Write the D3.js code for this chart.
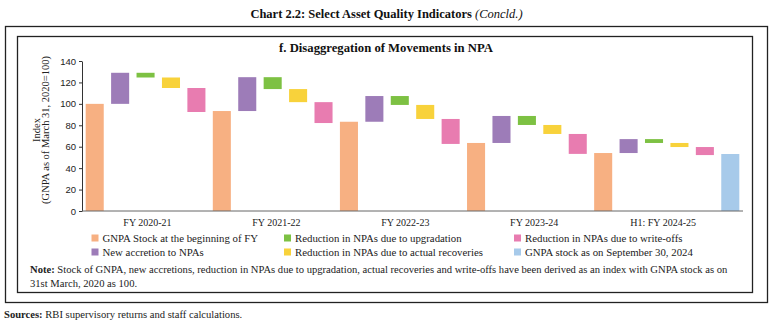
<!DOCTYPE html>
<html>
<head>
<meta charset="utf-8">
<script src="https://cdn.jsdelivr.net/npm/d3@7"></script>
<style>
    body { margin: 0; background: #fff; }
    svg { display: block; }
</style>
</head>
<body>
<div id="chart"></div>
<script>
// values (index, GNPA as of March 31, 2020 = 100)
var fiscalYears = ["FY 2020-21", "FY 2021-22", "FY 2022-23", "FY 2023-24", "H1: FY 2024-25"];
var openingStock = [100, 93.3, 83.3, 63.5, 54.1];
var newAccretion = [29, 31.6, 24, 25.2, 13];
var upgradation = [4.4, 11.1, 8.3, 8.4, 3.6];
var recoveries = [9.8, 12.2, 13.1, 8.4, 3.8];
var writeOffs = [22.4, 19.5, 23.3, 18.6, 7.5];
var closingStock = 53.2;
var yTicks = [0, 20, 40, 60, 80, 100, 120, 140];

var seriesNames = {
    open: "GNPA Stock at the beginning of FY",
    accretion: "New accretion to NPAs",
    upgrade: "Reduction in NPAs due to upgradation",
    recovery: "Reduction in NPAs due to actual recoveries",
    writeoff: "Reduction in NPAs due to write-offs",
    close: "GNPA stock as on September 30, 2024"
};
var seriesColors = {
    open: "#F7B082",
    accretion: "#9D7CB8",
    upgrade: "#7DC143",
    recovery: "#F8D23B",
    writeoff: "#E87CB0",
    close: "#A7CAEA"
};
// legend is laid out column by column, two rows
var legendOrder = ["open", "accretion", "upgrade", "recovery", "writeoff", "close"];

var width = 773, height = 325;
var serif = "'Liberation Serif', 'Times New Roman', serif";
var sans = "'Liberation Sans', Arial, sans-serif";

// build the floating bars of the waterfall
var bars = [];
fiscalYears.forEach(function (fy, i) {
    var level = openingStock[i];
    bars.push({key: "open", y0: 0, y1: level});
    bars.push({key: "accretion", y0: level, y1: level + newAccretion[i]});
    level += newAccretion[i];
    bars.push({key: "upgrade", y0: level - upgradation[i], y1: level});
    level -= upgradation[i];
    bars.push({key: "recovery", y0: level - recoveries[i], y1: level});
    level -= recoveries[i];
    bars.push({key: "writeoff", y0: level - writeOffs[i], y1: level});
});
bars.push({key: "close", y0: 0, y1: closingStock});

var svg = d3.select("#chart").append("svg")
    .attr("xmlns", "http://www.w3.org/2000/svg")
    .attr("width", width)
    .attr("height", height);

svg.append("text")
    .attr("x", 386.5)
    .attr("y", 18)
    .attr("text-anchor", "middle")
    .attr("font-family", serif)
    .attr("font-size", "12.5px")
    .attr("font-weight", "bold")
    .attr("fill", "#111")
    .text("Chart 2.2: Select Asset Quality Indicators ")
    .append("tspan")
    .attr("font-style", "italic")
    .attr("font-weight", "normal")
    .text("(Concld.)");

// outer and inner frames
svg.append("rect")
    .attr("x", 5.5).attr("y", 26.5)
    .attr("width", 762).attr("height", 276)
    .attr("fill", "none").attr("stroke", "#222").attr("stroke-width", 1.3);
svg.append("rect")
    .attr("x", 17.5).attr("y", 36.5)
    .attr("width", 735).attr("height", 256)
    .attr("fill", "none").attr("stroke", "#222").attr("stroke-width", 1.3);

svg.append("text")
    .attr("x", 386)
    .attr("y", 52)
    .attr("text-anchor", "middle")
    .attr("font-family", serif)
    .attr("font-size", "12.7px")
    .attr("font-weight", "bold")
    .attr("fill", "#111")
    .text("f. Disaggregation of Movements in NPA");

var x = d3.scaleBand()
    .domain(d3.range(bars.length))
    .range([82, 743])
    .paddingInner(0.29)
    .paddingOuter(0.145);

var y = d3.scaleLinear()
    .domain([0, 140])
    .range([211, 61]);

// category labels sit on their own band scale under each group of five
var xGroup = d3.scaleBand()
    .domain(fiscalYears)
    .range([x.range()[0] + 1, x(bars.length - 1) + x.bandwidth() * 0.35]);

svg.append("g")
    .attr("class", "bars")
    .selectAll("rect")
    .data(bars)
    .enter()
    .append("rect")
    .attr("x", function (d, i) { return x(i); })
    .attr("y", function (d) { return y(d.y1); })
    .attr("width", x.bandwidth())
    .attr("height", function (d) { return y(d.y0) - y(d.y1); })
    .attr("fill", function (d) { return seriesColors[d.key]; });

// y axis
var yAxis = svg.append("g")
    .attr("transform", "translate(" + x.range()[0] + ",0)")
    .call(d3.axisLeft(y).tickValues(yTicks).tickSize(3).tickSizeOuter(0).tickPadding(3));
yAxis.select(".domain").attr("stroke", "#333");
yAxis.selectAll(".tick line").attr("stroke", "#333");
yAxis.selectAll("text")
    .attr("font-family", sans)
    .attr("font-size", "9.5px")
    .attr("fill", "#222");

// x axis baseline
svg.append("line")
    .attr("x1", x.range()[0]).attr("x2", x.range()[1])
    .attr("y1", y(0)).attr("y2", y(0))
    .attr("stroke", "#666").attr("stroke-width", 1);

svg.append("g")
    .attr("class", "xlabels")
    .selectAll("text")
    .data(fiscalYears)
    .enter()
    .append("text")
    .attr("x", function (d) { return xGroup(d) + xGroup.bandwidth() / 2; })
    .attr("y", 225.5)
    .attr("text-anchor", "middle")
    .attr("font-family", serif)
    .attr("font-size", "10px")
    .attr("fill", "#222")
    .text(function (d) { return d; });

// y axis title
var yTitle = svg.append("text")
    .attr("transform", "translate(39.5,130) rotate(-90)")
    .attr("text-anchor", "middle")
    .attr("font-family", serif)
    .attr("font-size", "10.5px")
    .attr("fill", "#222");
yTitle.append("tspan").attr("x", 0).attr("dy", 0).text("Index");
yTitle.append("tspan").attr("x", 0).attr("dy", 9.5).text("(GNPA as of March 31, 2020=100)");

// legend
var legendCols = [91.5, 284, 514];
var legendRows = [238, 252];
var legend = svg.append("g")
    .attr("class", "legend")
    .selectAll("g")
    .data(legendOrder)
    .enter()
    .append("g")
    .attr("transform", function (d, i) {
        return "translate(" + legendCols[Math.floor(i / 2)] + "," + legendRows[i % 2] + ")";
    });
legend.append("rect")
    .attr("x", 0).attr("y", -3.5)
    .attr("width", 7).attr("height", 7)
    .attr("fill", function (d) { return seriesColors[d]; });
legend.append("text")
    .attr("x", 11)
    .attr("y", 3.5)
    .attr("font-family", serif)
    .attr("font-size", "10.8px")
    .attr("fill", "#222")
    .text(function (d) { return seriesNames[d]; });

// note and sources
var note = svg.append("text")
    .attr("x", 30).attr("y", 273)
    .attr("font-family", serif)
    .attr("font-size", "10.6px")
    .attr("fill", "#222");
note.append("tspan").attr("font-weight", "bold").text("Note:");
note.append("tspan").text(" Stock of GNPA, new accretions, reduction in NPAs due to upgradation, actual recoveries and write-offs have been derived as an index with GNPA stock as on");
svg.append("text")
    .attr("x", 30).attr("y", 287)
    .attr("font-family", serif)
    .attr("font-size", "10.6px")
    .attr("fill", "#222")
    .text("31st March, 2020 as 100.");

var sources = svg.append("text")
    .attr("x", 4).attr("y", 318)
    .attr("font-family", serif)
    .attr("font-size", "10.6px")
    .attr("fill", "#222");
sources.append("tspan").attr("font-weight", "bold").text("Sources:");
sources.append("tspan").text(" RBI supervisory returns and staff calculations.");
</script>
</body>
</html>
